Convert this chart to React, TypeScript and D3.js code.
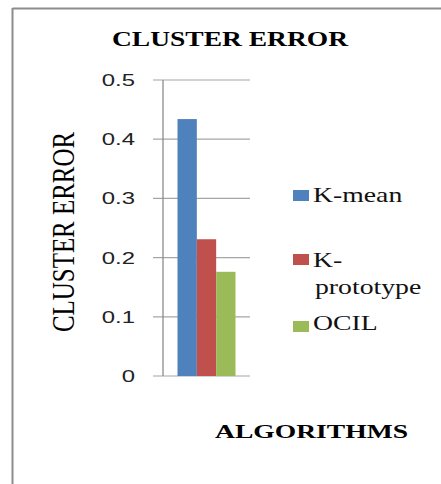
import React from 'react';
import * as d3 from 'd3';

// 数据：单一类别，三个算法
const categories = ['ALGORITHMS'];
const seriesNames = ['K-mean', 'K-prototype', 'OCIL'];
const seriesValues = [0.434, 0.231, 0.176];
const seriesColors = ['#4F81BD', '#C0504D', '#9BBB59'];
const yTicks = [0, 0.1, 0.2, 0.3, 0.4, 0.5];
const yTickLabels = ['0', '0.1', '0.2', '0.3', '0.4', '0.5'];

const W = 441, H = 484;
const plot = { left: 163, right: 250, top: 80, bottom: 376 };
const serif = '"Liberation Serif", "Times New Roman", serif';
const sans = '"Liberation Sans", Arial, sans-serif';

const App: React.FC = () => {
  const y = d3.scaleLinear().domain([0, 0.5]).range([plot.bottom, plot.top]);
  const x0 = d3.scaleBand<string>().domain(categories).range([plot.left, plot.right])
    .paddingInner(0).paddingOuter(0.25);
  const x1 = d3.scaleBand<string>().domain(seriesNames).range([0, x0.bandwidth()]);

  // 图例位置（手动排版，原图里 K-prototype 换行了）
  const legend = [
    { sq: 190, lines: [{ t: 'K-mean', x: 313, y: 202 }] },
    { sq: 254, lines: [{ t: 'K-', x: 313, y: 267 }, { t: 'prototype', x: 315, y: 294 }] },
    { sq: 321, lines: [{ t: 'OCIL', x: 313, y: 329.5 }] },
  ];

  return (
    <svg width={W} height={H} style={{ position: 'absolute', left: 0, top: 0, background: '#fff' }}>
      {/* 外框：只有左边和上边可见 */}
      <line x1={12.5} x2={12.5} y1={8} y2={H} stroke="#8c8c8c" strokeWidth={2} />
      <line x1={12.5} x2={W} y1={8.5} y2={8.5} stroke="#8c8c8c" strokeWidth={2} />

      <text x={230} y={46} textAnchor="middle" fontFamily={serif} fontWeight="bold" fontSize={21}
        textLength={236} lengthAdjust="spacingAndGlyphs">CLUSTER ERROR</text>

      {/* 网格 + 刻度 */}
      {yTicks.map((t, i) => (
        <g key={t}>
          <line x1={plot.left - 10} x2={plot.right} y1={y(t)} y2={y(t)} stroke="#a6a6a6" strokeWidth={1.2} />
          <text transform={`translate(135,${y(t)}) scale(1.45,1)`} textAnchor="end" dy="0.36em"
            fontFamily={sans} fontSize={16.5} fill="#222">{yTickLabels[i]}</text>
        </g>
      ))}
      <line x1={plot.left} x2={plot.left} y1={plot.top} y2={plot.bottom} stroke="#8c8c8c" strokeWidth={1.3} />

      {/* 柱子 */}
      {categories.map(c => (
        <g key={c} transform={`translate(${x0(c)},0)`}>
          {seriesNames.map((s, i) => (
            <rect key={s} x={x1(s)} y={y(seriesValues[i])} width={x1.bandwidth()}
              height={y(0) - y(seriesValues[i])} fill={seriesColors[i]} />
          ))}
        </g>
      ))}

      {/* Y 轴标题 */}
      <g transform="translate(74,232)">
        <text transform="scale(1.45,1) rotate(-90)" textAnchor="middle" fontFamily={serif} fontSize={22}
          textLength={200} lengthAdjust="spacingAndGlyphs">CLUSTER ERROR</text>
      </g>

      {/* X 轴标题 */}
      <text x={311.5} y={437.5} textAnchor="middle" fontFamily={serif} fontWeight="bold" fontSize={19}
        textLength={193} lengthAdjust="spacingAndGlyphs">{categories[0]}</text>

      {/* 图例 */}
      {legend.map((l, i) => (
        <g key={seriesNames[i]}>
          <rect x={293} y={l.sq} width={16} height={11} fill={seriesColors[i]} />
          {l.lines.map(ln => (
            <text key={ln.t} transform={`translate(${ln.x},${ln.y}) scale(1.32,1)`} fontFamily={serif}
              fontSize={21} fill="#111">{ln.t}</text>
          ))}
        </g>
      ))}
    </svg>
  );
};

export default App;
